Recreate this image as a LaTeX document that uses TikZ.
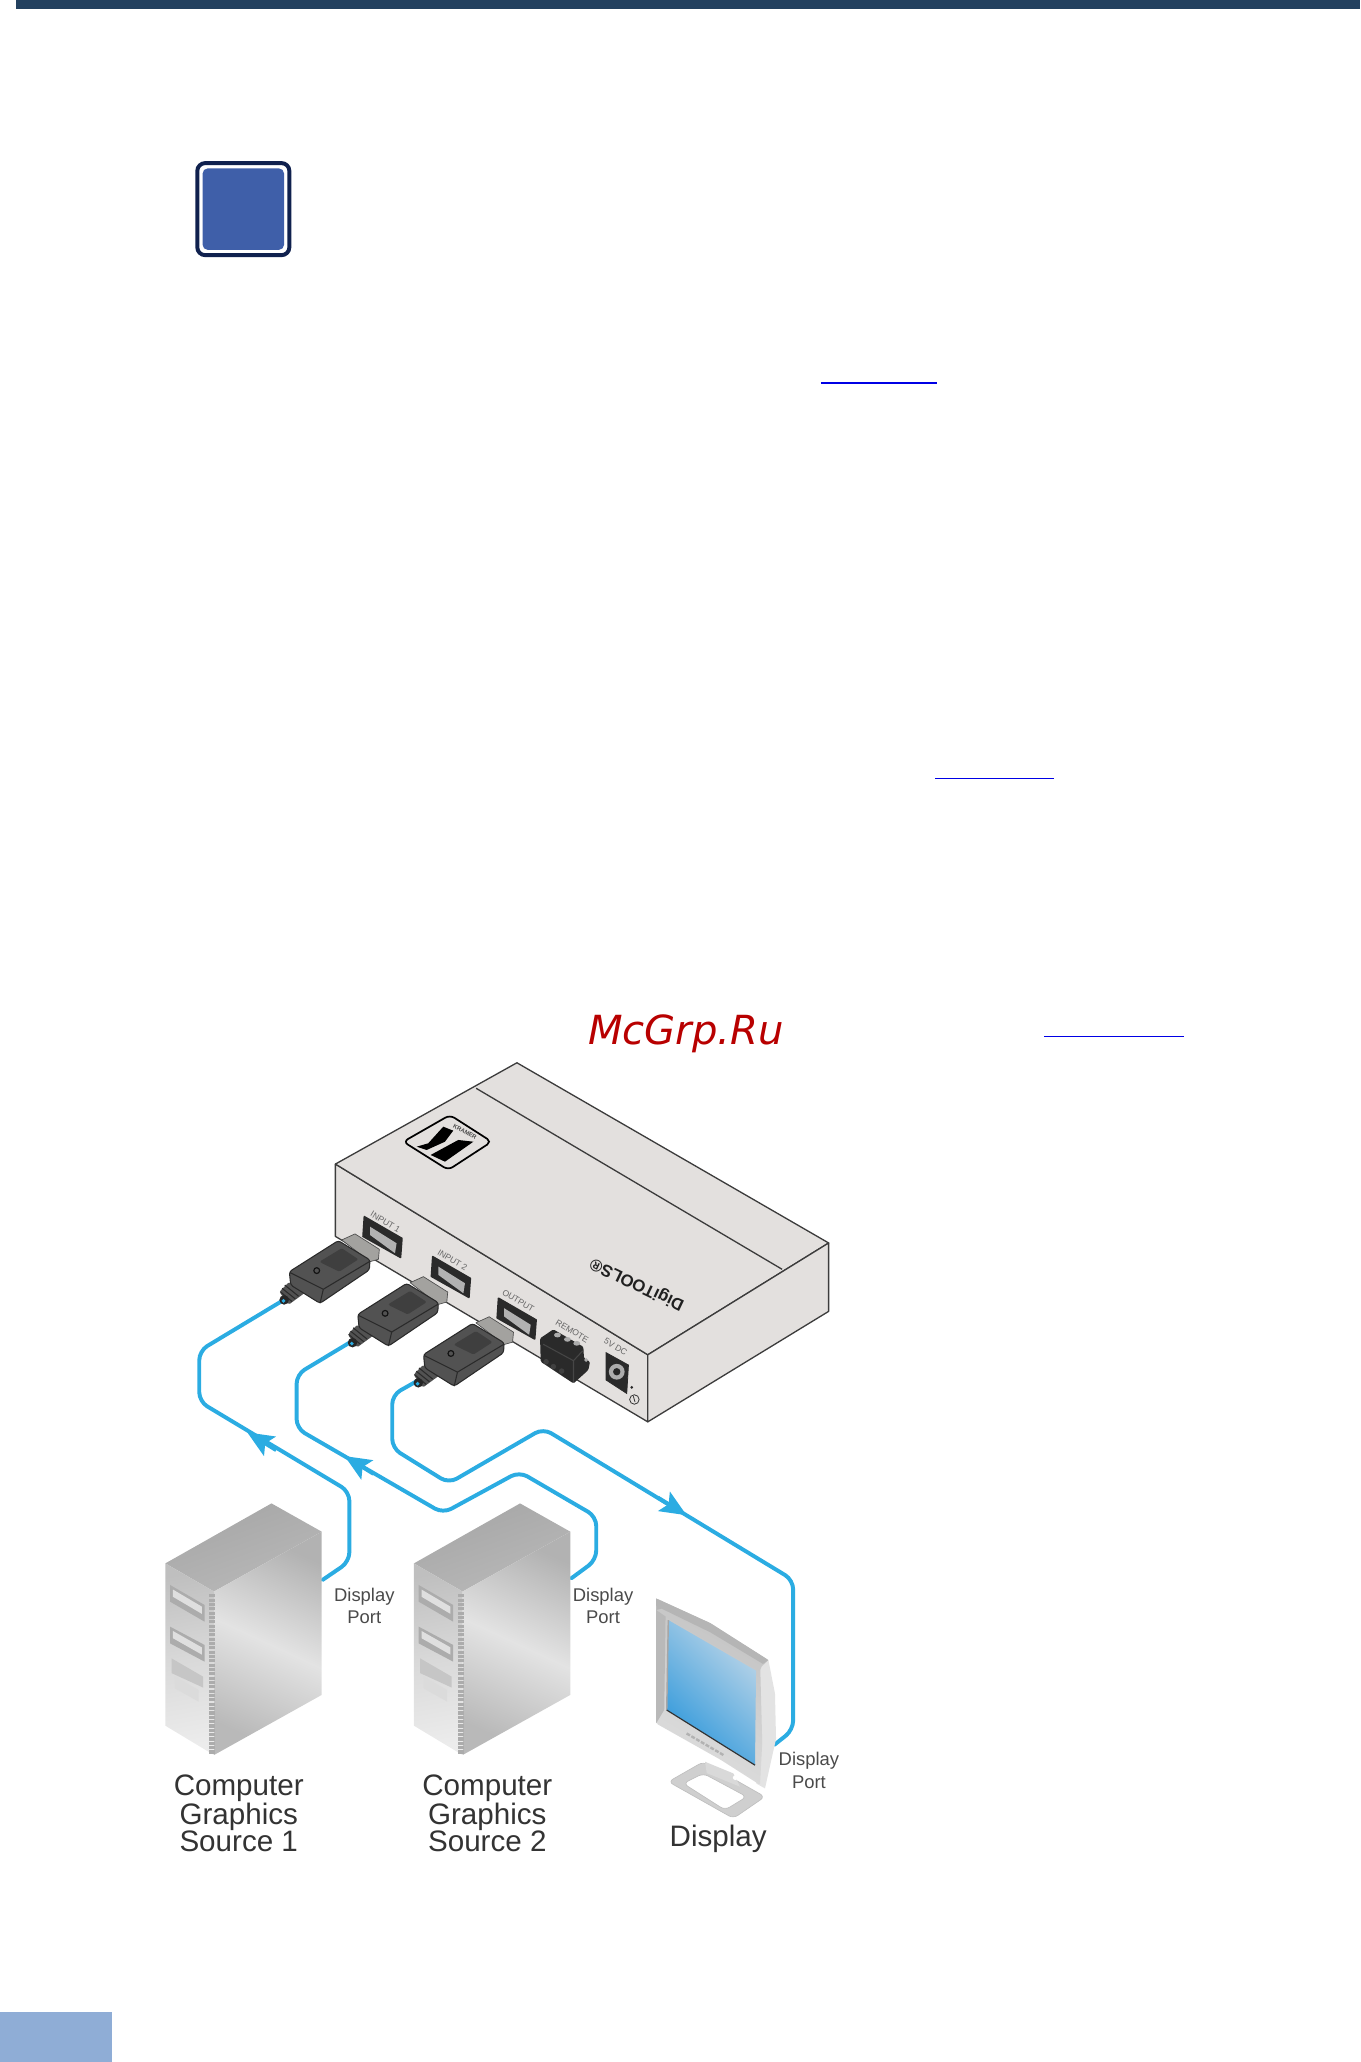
\documentclass[tikz,border=0pt]{standalone}
\usepackage{fontspec}
\setmainfont{Liberation Sans}
\newfontfamily\wmfont{DejaVu Sans}
\usetikzlibrary{arrows.meta}
\definecolor{barblue}{HTML}{23415F}
\definecolor{iconnavy}{HTML}{10214E}
\definecolor{iconfill}{HTML}{3F5FA9}
\definecolor{tabblue}{HTML}{8FADD6}
\definecolor{cablec}{HTML}{2BACE2}
\definecolor{boxc}{HTML}{E3E0DE}
\definecolor{boxline}{HTML}{3C3C3C}
\definecolor{plugc}{HTML}{525252}
\definecolor{plugd}{HTML}{2A2A2A}
\definecolor{tiptone}{HTML}{A3A29F}
\definecolor{labelc}{HTML}{4A4A4A}
\definecolor{bigc}{HTML}{333333}
\definecolor{screenlo}{HTML}{2F98DB}
\definecolor{screenhi}{HTML}{BBD5E8}
\tikzset{
  linkrule/.style={draw=blue!90!black,line width=1.2pt},
  cable/.style={draw=cablec,line width=3pt,rounded corners=7pt,line cap=round},
  cabletip/.style={draw=cablec,line width=3pt,-{Stealth[length=20pt,width=17pt,inset=4pt]}},
  boxface/.style={fill=boxc,draw=boxline,line width=1pt,line join=round},
  portlabel/.style={font=\fontsize{6.5}{7}\selectfont,text=gray!80!black,rotate=-31,inner sep=0pt},
  smalllabel/.style={font=\fontsize{14}{17}\selectfont,text=labelc,align=center,inner sep=0pt},
  biglabel/.style={font=\fontsize{22.5}{20.8}\selectfont,text=bigc,align=center,inner sep=0pt},
  portface/.style={fill=plugd,draw=plugd,line width=1.2pt,line join=round},
  portin/.style={fill=gray!60},
}
\newcommand{\kplug}[2]{%
 \begin{scope}[shift={(#1,#2)}]
  \fill[plugc,rounded corners=1.5pt] (220,974.4)--(233,982)--(219.2,992.1)--(212.4,982)--cycle;
  \draw[plugd,line width=.8pt] (216.5,977)--(227,985.5) (214.5,979.5)--(224.5,987.5) (213,982)--(222,989.5);
  \fill[gray!30!black] (216,988.3) circle (3.6pt);
  \fill[cablec] (215.5,989) circle (1.5pt);
  \fill[tiptone,draw=gray!60!black,line width=.5pt,line join=round] (259.8,942.7)--(269.9,938.1)--(288.4,949.8)--(287.7,957.4)--(281.3,959.2)--cycle;
  \fill[plugc,draw=plugd,line width=.8pt,rounded corners=2pt] (220,966.8)--(257.2,943.2)--(281.3,957.9)--(280.8,965.5)--(243.3,990.9)--(221,977)--cycle;
  \draw[plugd,line width=.8pt] (220.5,967.5)--(245.8,980.2)--(280.8,959.2) (245.8,980.2)--(243.3,990.9);
  \fill[plugd!90!white,rounded corners=1pt] (243.3,959)--(259.8,949)--(272.5,957.4)--(258,966.8)--(244,960)--cycle;
  \draw[gray!15!black,line width=.9pt] (240.8,966) circle (2.2pt);
 \end{scope}}
\newcommand{\ktower}[1]{%
 \begin{scope}[shift={(#1,0)}]
  \shade[top color=gray!70,bottom color=gray!55,shading angle=20] (206.4,1143)--(244.6,1164.5)--(162.7,1210)--(125.7,1188.6)--cycle;
  \shade[top color=gray!60,bottom color=gray!55,middle color=gray!22,shading angle=-25] (244.6,1164.5)--(244.6,1288.6)--(162.7,1334.3)--(162.7,1210)--cycle;
  \shade[top color=gray!50,bottom color=gray!15,middle color=gray!30,shading angle=10] (125.7,1188.6)--(162.7,1210)--(162.7,1334.3)--(125.7,1312)--cycle;
  \fill[gray!65] (129.3,1205)--(155.5,1220.2)--(155.5,1232.9)--(129.3,1217.7)--cycle;
  \fill[gray!25] (131.5,1208.5)--(153.5,1221.5)--(153.5,1227)--(131.5,1214)--cycle;
  \fill[gray!65] (129.3,1236.7)--(155.5,1250.6)--(155.5,1263.3)--(129.3,1249.4)--cycle;
  \fill[gray!25] (131.5,1240)--(153.5,1252.5)--(153.5,1258)--(131.5,1245.5)--cycle;
  \fill[gray!45] (130.4,1260.8)--(154.4,1274.7)--(154.4,1283)--(130.4,1272)--cycle;
  \fill[gray!28] (133,1274.7)--(151,1284.8)--(151,1293.7)--(133,1283.6)--cycle;
  \draw[gray!65,line width=4.5pt,dash pattern=on 2.4pt off .9pt] (161.5,1212)--(161.5,1334);
 \end{scope}}
\begin{document}
\begin{tikzpicture}[x=1pt,y=-1pt]
\useasboundingbox (0,0) rectangle (1034,1567.7);
% page furniture
\fill[barblue] (12,0) rectangle (1034,7);
\fill[tabblue] (0,1530) rectangle (85,1567.7);
\node[draw=iconnavy,line width=3pt,fill=white,rounded corners=6pt,minimum width=70pt,minimum height=70pt,inner sep=0pt] (icon) at (185,159) {};
\node[fill=iconfill,rounded corners=4pt,minimum width=62pt,minimum height=62pt,inner sep=0pt] (iconin) at (icon.center) {};
\coordinate (la) at (624,291); \coordinate (lb) at (712,291);
\coordinate (lc) at (711,592); \coordinate (ld) at (801,592);
\coordinate (le) at (794,788); \coordinate (lf) at (900,788);
\draw[linkrule] (la)--(lb);
\draw[linkrule] (lc)--(ld);
\draw[linkrule] (le)--(lf);
\node[inner sep=0pt,text=red!72!black,font=\wmfont\itshape\fontsize{30.5}{32}\selectfont] (wm) at (521.5,786) {McGrp.Ru};
% device
\path[boxface] (255,885)--(492.5,1030)--(492.5,1081)--(255,940)--cycle;
\path[boxface] (393,808)--(630,945)--(492.5,1030)--(255,885)--cycle;
\path[boxface] (630,945)--(630,997)--(492.5,1081)--(492.5,1030)--cycle;
\draw[boxline,line width=1pt] (362,827.4)--(594.6,965);
% logo
\draw[line width=1.3pt,rounded corners=4pt,fill=boxc] (342.1,847.7)--(373.8,868)--(340.8,889.5)--(306.6,868)--cycle;
\fill[black] (337,856.6)--(344.6,859.6)--(338.3,868)--(324.4,874.3)--(316.8,871.8)--(325.6,869.2)--cycle;
\fill[black] (348.4,866.7)--(359.9,868)--(338.3,883.2)--(327.4,878.1)--cycle;
\node[inner sep=0pt,rotate=-30,font=\bfseries\fontsize{4.5}{5}\selectfont,text=gray!60!black] (logotxt) at (353.5,860.5) {KRAMER};
% ports
\foreach \nm/\dx/\dy in {pa/0/0,pb/52/30.4,pc/102/62}{
  \begin{scope}[shift={(\dx,\dy)}]
   \path[portface] (277,925)--(305.6,941.5)--(304.5,956)--(276,940)--cycle;
   \path[portin] (281.3,932.6)--(301.5,945.2)--(300.3,952.8)--(281.3,938.9)--cycle;
  \end{scope}}
\node[portlabel] (in1) at (293,929) {INPUT 1};
\node[portlabel] (in2) at (344,958) {INPUT 2};
\node[portlabel] (out) at (394,989) {OUTPUT};
\node[portlabel] (rem) at (435,1012) {REMOTE};
\node[portlabel] (dc) at (468,1024) {5V DC};
\node[inner sep=0pt,rotate=154.5,font=\bfseries\fontsize{12.8}{13}\selectfont,text=gray!25!black] (brand) at (484.5,976) {DigiTOOLS®};
% remote block
\fill[plugd,line join=round,rounded corners=1pt] (410.6,1017.5)--(420.7,1010.7)--(443.5,1023.9)--(444,1032.7)--(448.6,1035.3)--(447.3,1041.6)--(436,1051.8)--(411.1,1035.3)--cycle;
\draw[gray!55!black,line width=.8pt] (413,1022)--(436,1034.5)--(443,1027) (436,1034.5)--(436,1051);
\foreach \sx/\sy in {{423.8/1015},{431.4/1018.3},{438.5/1021.3}}{
  \fill[gray!65] (\sx,\sy) ellipse (2.6pt and 1.8pt);
}
\foreach \sx/\sy in {{415.2/1035.3},{420.7/1039},{427/1042.4}}{
  \fill[gray!50!black] (\sx,\sy) circle (2.1pt);
}
\fill[gray!65] (445.6,1034) circle (1.5pt);
% power jack
\fill[plugd,draw=plugd,line width=.6pt] (460.8,1028.4)--(477.8,1037.8)--(476.5,1059.4)--(460.8,1049.2)--cycle;
\fill[gray!65] (468.9,1042.9) circle (6pt);
\fill[gray!30!black] (468.9,1042.9) circle (2.8pt);
\fill[gray!30!black] (480.3,1054.8) circle (1.1pt);
\draw[gray!40!black,line width=.6pt] (482.3,1064) circle (3.6pt);
\draw[gray!40!black,line width=.6pt] (481.5,1061.5)--(482.8,1066);
% cable routing points
\coordinate (c1a) at (215.6,988.4); \coordinate (c1b) at (151.5,1027); \coordinate (c1c) at (151.5,1065.6);
\coordinate (c1d) at (265.6,1134); \coordinate (c1e) at (265.6,1187.3); \coordinate (c1f) at (245.2,1201.2);
\coordinate (c1t) at (188,1089);
\coordinate (c2a) at (267,1020); \coordinate (c2b) at (225.5,1045); \coordinate (c2c) at (225.5,1086);
\coordinate (c2d) at (336.8,1150.5); \coordinate (c2e) at (394.8,1118.9); \coordinate (c2f) at (453.3,1153);
\coordinate (c2g) at (453.3,1186); \coordinate (c2h) at (434.3,1200);
\coordinate (c2t) at (262,1107);
\coordinate (c3a) at (318.4,1049.2); \coordinate (c3b) at (298.2,1060.6); \coordinate (c3c) at (298.2,1101);
\coordinate (c3d) at (341.2,1127.7); \coordinate (c3e) at (413,1086); \coordinate (c3f) at (603,1201.2);
\coordinate (c3g) at (603,1315.2); \coordinate (c3h) at (588.6,1326.6);
\coordinate (c3t) at (522,1152);
\draw[cable] (c1f)--(c1e)--(c1d)--(c1c)--(c1b)--(c1a);
\draw[cable] (c2h)--(c2g)--(c2f)--(c2e)--(c2d)--(c2c)--(c2b)--(c2a);
\draw[cable] (c3a)--(c3b)--(c3c)--(c3d)--(c3e)--(c3f)--(c3g)--(c3h);
\draw[cabletip] (210,1102.5)--(c1t);
\draw[cabletip] (284,1120.5)--(c2t);
\draw[cabletip] (500,1138.5)--(c3t);
% plugs
\kplug{0}{0}
\kplug{52}{32.5}
\kplug{102}{63}
% towers
\ktower{0}
\ktower{189}
% monitor stand
\fill[gray!38,draw=gray!50,line width=.5pt,even odd rule,rounded corners=4pt]
  (508.1,1354.6)--(534.7,1339.4)--(581.6,1366)--(557.6,1382.5)--cycle
  (519.5,1355.9)--(534.7,1348.3)--(567.7,1366)--(551.2,1376.1)--cycle;
\fill[gray!30] (536,1339.4)--(557.6,1348.3)--(562.6,1358.4)--(537.3,1348)--cycle;
% monitor body
\fill[gray!22] (576,1262)--(584.2,1262.1)--(589.2,1287.5)--(590,1322)--(581.6,1359.7)--(575,1356)--cycle;
\shade[top color=gray!48,bottom color=gray!26,shading angle=-30,rounded corners=1.5pt] (498.8,1215.2)--(540,1234)--(584.2,1262.1)--(578,1268)--(579.5,1325)--(577.8,1357)--(548,1338)--(498.8,1310.3)--cycle;
\fill[gray!58] (498.8,1215.2)--(540,1234)--(584.2,1262.1)--(580,1265)--(540,1241)--(503,1223)--(499,1224)--cycle;
\fill[gray!55] (498.8,1224)--(506,1229)--(505,1300)--(498.8,1310.3)--cycle;
\shade[top color=screenhi,bottom color=screenlo,shading angle=-45] (508.1,1231.7)--(574.8,1270.2)--(574,1342)--(506.9,1300.1)--cycle;
\draw[gray!70,line width=1.1pt] (508.1,1231.7)--(506.9,1300.1);
\draw[gray!40!black,line width=.9pt] (506.9,1300.1)--(574,1342);
\draw[gray!60,line width=1.8pt,dash pattern=on 3pt off 1.2pt] (522,1317.9)--(550,1334.3);
\fill[white] (559,1351.5) circle (1.8pt);
% labels
\node[smalllabel] (dp1) at (277,1221) {Display\\Port};
\node[smalllabel] (dp2) at (458.5,1221) {Display\\Port};
\begin{scope}
  \clip (590,1320) rectangle (638,1370);
  \node[smalllabel] (dp3) at (615,1346) {Display\\Port};
\end{scope}
\node[biglabel] (src1) at (181.5,1378.5) {Computer\\Graphics\\Source 1};
\node[biglabel] (src2) at (370.5,1378.5) {Computer\\Graphics\\Source 2};
\node[biglabel] (disp) at (546,1398) {Display};
\end{tikzpicture}
\end{document}
